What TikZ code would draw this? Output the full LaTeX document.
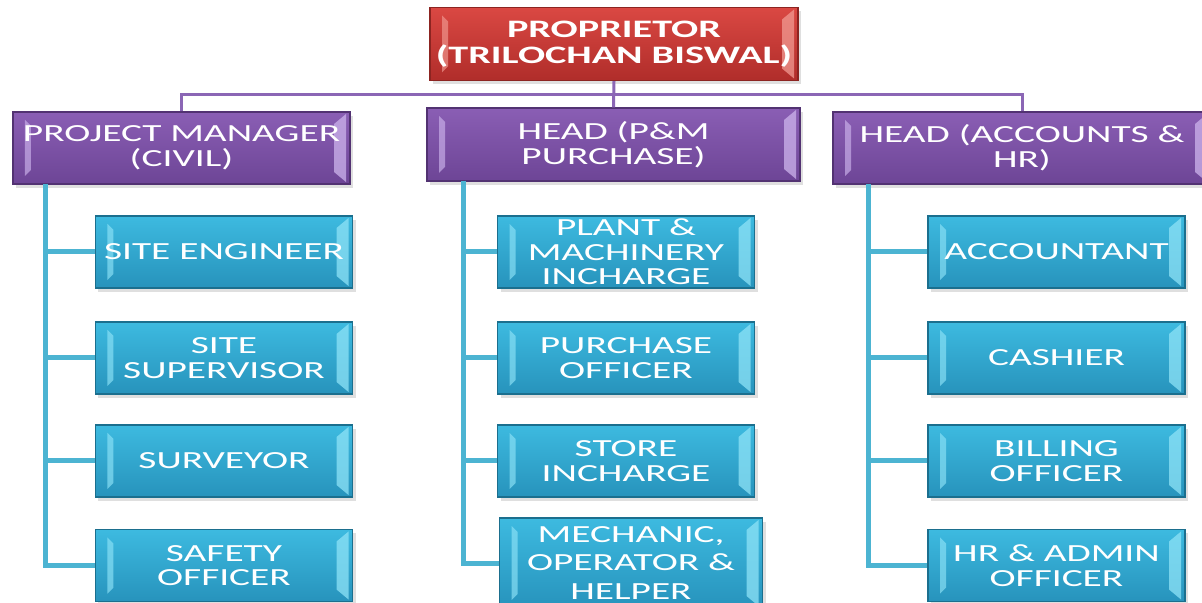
\documentclass[tikz,border=0pt]{standalone}
\usepackage{fontspec}
\usepackage{xcolor}
\usepackage{tikz}
\usetikzlibrary{positioning, calc, shadows}
\newfontfamily\orgfont{Carlito}[FakeStretch=1.6]
\definecolor{redtop}{HTML}{DA4843}
\definecolor{redbot}{HTML}{B02D2A}
\definecolor{redline}{HTML}{8C2421}
\definecolor{redbevel}{HTML}{F19A92}
\definecolor{purptop}{HTML}{8A5EB4}
\definecolor{purpbot}{HTML}{6D4596}
\definecolor{purpline}{HTML}{523272}
\definecolor{purpbevel}{HTML}{CDB4EC}
\definecolor{tealtop}{HTML}{3DBAE0}
\definecolor{tealbot}{HTML}{2793BC}
\definecolor{tealline}{HTML}{1B6F8E}
\definecolor{tealbevel}{HTML}{8EE3F7}
\definecolor{busline}{HTML}{8B66B5}
\definecolor{branchline}{HTML}{4CB4D2}
\tikzset{
  bevel/.style={path picture={
      \fill[#1, fill opacity=0.65] ($(path picture bounding box.north west)+(2.4mm,-1.6mm)$)
        -- ++(1.2mm,-1.2mm)
        -- ($(path picture bounding box.south west)+(3.6mm,2.8mm)$)
        -- ++(-1.2mm,-1.2mm) -- cycle;
      \fill[#1, fill opacity=0.75] ($(path picture bounding box.north east)+(-0.8mm,-0.4mm)$)
        -- ++(-2.4mm,-2mm)
        -- ($(path picture bounding box.south east)+(-3.2mm,2.4mm)$)
        -- ++(2.4mm,-2mm) -- cycle;
    }},
  orgbox/.style={rectangle, line width=0.6pt, align=center, text=white, inner sep=0pt,
    font=\orgfont\fontsize{14}{14}\selectfont,
    drop shadow={shadow xshift=0.6mm, shadow yshift=-0.8mm, opacity=0.25}},
  topbox/.style={orgbox, draw=redline, top color=redtop, bottom color=redbot,
    bevel=redbevel, minimum width=73.6mm, minimum height=14.6mm,
    font=\orgfont\bfseries\fontsize{14.3}{14.6}\selectfont},
  headbox/.style={orgbox, draw=purpline, top color=purptop, bottom color=purpbot,
    bevel=purpbevel, minimum height=14.4mm},
  staffbox/.style={orgbox, draw=tealline, top color=tealtop, bottom color=tealbot,
    bevel=tealbevel, minimum width=51.4mm, minimum height=14.4mm},
  busconn/.style={draw=busline, line width=0.6mm},
  branchconn/.style={draw=branchline, line width=1mm}
}
\begin{document}
\begin{tikzpicture}[x=0.2mm, y=-0.2mm]
  \fill[white] (0,0) rectangle (1202,603);
  \clip (0,0) rectangle (1202,603);

  % Proprietor
  \node[topbox] (prop) at (614, 44) {PROPRIETOR\\(TRILOCHAN BISWAL)};

  % Heads
  \node[headbox, minimum width=67.4mm] (pm) at (181.5, 148) {PROJECT MANAGER\\(CIVIL)};
  \node[headbox, minimum width=74.6mm, minimum height=14.6mm] (hpm) at (613.5, 144.5) {HEAD (P\&M\\PURCHASE)};
  \node[headbox, minimum width=75.6mm] (hacc) at (1022, 148) {HEAD (ACCOUNTS \&\\HR)};

  % Civil staff
  \node[staffbox] (se) at (224, 252) {SITE ENGINEER};
  \node[staffbox] (ss) at (224, 358) {SITE\\SUPERVISOR};
  \node[staffbox] (sv) at (224, 461) {SURVEYOR};
  \node[staffbox] (so) at (224, 565.5) {SAFETY\\OFFICER};

  % P&M / purchase staff
  \node[staffbox] (pmi) at (626, 252) {PLANT \&\\MACHINERY\\INCHARGE};
  \node[staffbox] (po) at (626, 358) {PURCHASE\\OFFICER};
  \node[staffbox] (si) at (626, 461) {STORE\\INCHARGE};
  \node[staffbox, minimum width=52.6mm, minimum height=18mm,
        font=\orgfont\fontsize{14}{16}\selectfont] (moh) at (631, 563)
        {MECHANIC,\\OPERATOR \&\\HELPER};

  % Accounts / HR staff
  \node[staffbox] (acc) at (1056.5, 252) {ACCOUNTANT};
  \node[staffbox] (cash) at (1056.5, 358) {CASHIER};
  \node[staffbox] (bo) at (1056.5, 461) {BILLING\\OFFICER};
  \node[staffbox] (hra) at (1056.5, 565.5) {HR \& ADMIN\\OFFICER};

  % Top level connectors
  \coordinate (bus) at (614, 95);
  \draw[busconn] (prop.south) -- (hpm.north);
  \draw[busconn] (pm.north) |- (bus) -| (hacc.north);

  % Staff connectors
  \coordinate (pmtrunk) at (45, 184);
  \coordinate (hpmtrunk) at (463, 181);
  \coordinate (hacctrunk) at (868, 184);
  \foreach \k in {se, ss, sv, so}
    \draw[branchconn] (pmtrunk) |- (\k.west);
  \foreach \k in {pmi, po, si, moh}
    \draw[branchconn] (hpmtrunk) |- (\k.west);
  \foreach \k in {acc, cash, bo, hra}
    \draw[branchconn] (hacctrunk) |- (\k.west);
\end{tikzpicture}
\end{document}
